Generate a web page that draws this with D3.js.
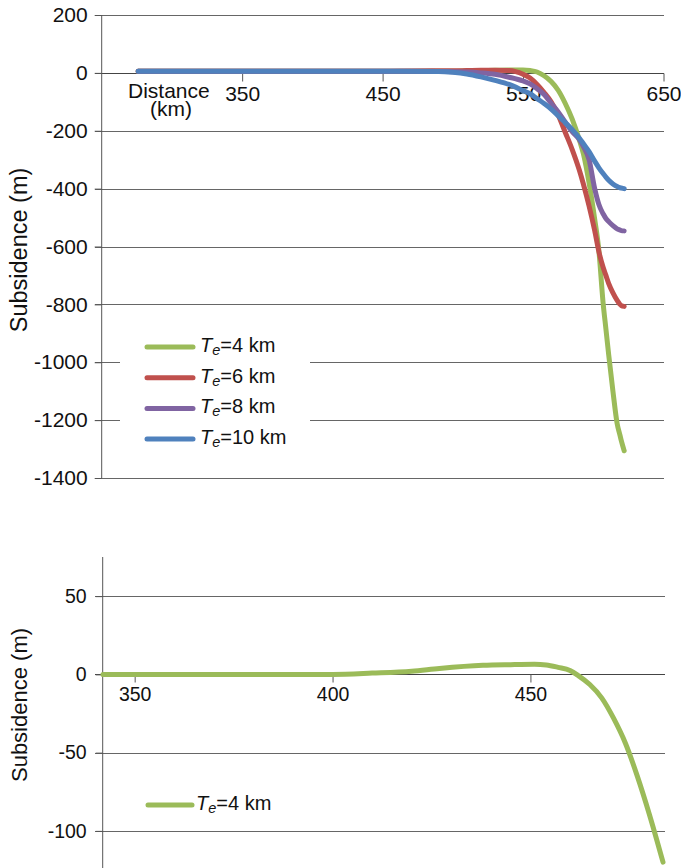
<!DOCTYPE html>
<html><head><meta charset="utf-8">
<script src="https://cdn.jsdelivr.net/npm/d3@7"></script>
<style>
body{margin:0;background:#fff;}
svg text{font-family:Arial,"Liberation Sans",Helvetica,sans-serif;fill:#111;}
</style>
</head><body>
<svg id="chart" width="681" height="868"></svg>
<script>
// ---------- DATA (top panel) ----------
const distance = [276, 350, 450, 490, 500, 510, 520, 530, 540, 550, 555, 560, 565, 570, 575, 580, 585, 590, 593, 597, 601, 604, 607, 609, 611, 614, 617, 619, 620, 622];
const te4  = [6, 6, 6, 6, 6, 7, 8, 9, 10, 10, 8, 3, -10, -30, -60, -105, -160, -230, -280, -380, -505, -615, -795, -885, -975, -1100, -1212, -1252, -1272, -1306];
const te6  = [6, 6, 6, 7, 7, 8, 9, 9, 8, -5, -18, -40, -68, -100, -145, -205, -265, -335, -385, -460, -545, -618, -672, -700, -728, -760, -786, -800, -804, -807];
const te8  = [6, 6, 6, 5, 4, 3, 0, -5, -15, -28, -38, -55, -75, -105, -135, -170, -203, -230, -255, -300, -400, -455, -487, -503, -514, -528, -539, -543, -545, -546];
const te10 = [6, 6, 6, 5, 2, -4, -14, -26, -40, -61, -72, -89, -106, -125, -148, -172, -196, -225, -245, -272, -305, -328, -348, -360, -371, -384, -393, -397, -398, -400];
const seriesNames = ["4", "6", "8", "10"];
const seriesValues = [te4, te6, te8, te10];
const seriesColors = ["#9BBB59", "#C0504D", "#8064A2", "#4F81BD"];
const topYTicks = [200, 0, -200, -400, -600, -800, -1000, -1200, -1400];
const topXTicks = [350, 450, 550, 650];

// ---------- DATA (bottom panel, zoom of Te=4 km) ----------
const distance2 = [342, 360, 380, 400, 410, 420, 427, 438, 445, 451, 454, 457, 460, 462, 465, 468, 471, 474, 477, 480, 483.5];
const te4zoom   = [0, 0, 0, 0, 0.8, 2, 3.8, 5.8, 6.2, 6.4, 6, 4.5, 2.5, -0.6, -6.5, -15, -28, -44, -65, -89, -120];
const bottomYTicks = [50, 0, -50, -100];
const bottomXTicks = [350, 400, 450];

const svg = d3.select("#chart");
const FS_TOP = 21, FS_BOT = 19.5;
const fmt = d => String(d);

function legendLabel(sel, val, x, y) {
  const t = sel.append("text").attr("x", x).attr("y", y).attr("font-size", 20).attr("dominant-baseline", "middle");
  t.append("tspan").attr("font-style", "italic").text("T");
  t.append("tspan").attr("font-style", "italic").attr("font-size", 14.5).attr("dy", 4).text("e");
  t.append("tspan").attr("dy", -4).text("=" + val + " km");
}

// ================= TOP PANEL =================
const x1 = d3.scaleLinear().domain([250, 650]).range([101.7, 663.5]);
const y1 = d3.scaleLinear().domain([-1400, 200]).range([478, 15]);
const g1 = svg.append("g");

g1.append("g").selectAll("line").data(topYTicks).join("line")
  .attr("x1", 95).attr("x2", 664)
  .attr("y1", d => Math.round(y1(d)) + 0.5).attr("y2", d => Math.round(y1(d)) + 0.5)
  .attr("stroke", d => d === 0 ? "#444" : "#666").attr("stroke-width", 1);

const ya1 = g1.append("g").attr("transform", "translate(101.7,0)")
  .call(d3.axisLeft(y1).tickValues(topYTicks).tickSize(7).tickPadding(7).tickFormat(fmt));
ya1.select(".domain").remove();
ya1.selectAll(".tick line").attr("stroke", "#555");
ya1.selectAll("text").attr("font-size", FS_TOP).attr("font-family", null);
g1.append("line").attr("x1", 101.7).attr("x2", 101.7).attr("y1", y1(200)).attr("y2", y1(-1400)).attr("stroke", "#555");

const xa1 = g1.append("g").attr("transform", `translate(0,${Math.round(y1(0)) + 0.5})`)
  .call(d3.axisBottom(x1).tickValues(topXTicks).tickSize(8).tickPadding(5).tickFormat(fmt));
xa1.select(".domain").remove();
xa1.selectAll(".tick line").attr("stroke", "#555");
xa1.selectAll("text").attr("font-size", FS_TOP).attr("font-family", null);

g1.append("text").attr("x", 128).attr("y", 97.5).attr("font-size", FS_TOP).text("Distance");
g1.append("text").attr("x", 171).attr("y", 116).attr("font-size", FS_TOP).attr("text-anchor", "middle").text("(km)");

g1.append("text").attr("transform", "translate(27,250) rotate(-90)")
  .attr("text-anchor", "middle").attr("font-size", 23.5).text("Subsidence (m)");

const line1 = d3.line().x((d, i) => x1(distance[i])).y(d => y1(d)).curve(d3.curveMonotoneX);
g1.append("g").selectAll("path").data(seriesValues).join("path")
  .attr("d", d => line1(d)).attr("fill", "none")
  .attr("stroke", (d, i) => seriesColors[i]).attr("stroke-width", 5)
  .attr("stroke-linecap", "round").attr("stroke-linejoin", "round");

const lg1 = g1.append("g");
lg1.append("rect").attr("x", 120).attr("y", 331).attr("width", 190).attr("height", 124).attr("fill", "#fff");
seriesNames.forEach((n, i) => {
  const yy = 347 + i * 30.7;
  lg1.append("line").attr("x1", 147).attr("x2", 193).attr("y1", yy).attr("y2", yy)
    .attr("stroke", seriesColors[i]).attr("stroke-width", 5).attr("stroke-linecap", "round");
  legendLabel(lg1, n, 200, yy);
});

// ================= BOTTOM PANEL =================
const x2 = d3.scaleLinear().domain([342, 484]).range([103, 665]);
const y2 = d3.scaleLinear().domain([-125, 75]).range([870, 557]);
const g2 = svg.append("g");

g2.append("g").selectAll("line").data(bottomYTicks).join("line")
  .attr("x1", 95).attr("x2", 665)
  .attr("y1", d => Math.round(y2(d)) + 0.5).attr("y2", d => Math.round(y2(d)) + 0.5)
  .attr("stroke", d => d === 0 ? "#444" : "#666").attr("stroke-width", 1);

const ya2 = g2.append("g").attr("transform", "translate(102.7,0)")
  .call(d3.axisLeft(y2).tickValues(bottomYTicks).tickSize(7).tickPadding(9).tickFormat(fmt));
ya2.select(".domain").remove();
ya2.selectAll(".tick line").attr("stroke", "#555");
ya2.selectAll("text").attr("font-size", FS_BOT).attr("font-family", null);
g2.append("line").attr("x1", 102.7).attr("x2", 102.7).attr("y1", 557).attr("y2", 868).attr("stroke", "#555");

const xa2 = g2.append("g").attr("transform", `translate(0,${Math.round(y2(0)) + 0.5})`)
  .call(d3.axisBottom(x2).tickValues(bottomXTicks).tickSize(8).tickPadding(5).tickFormat(fmt));
xa2.select(".domain").remove();
xa2.selectAll(".tick line").attr("stroke", "#555");
xa2.selectAll("text").attr("font-size", FS_BOT).attr("font-family", null);

g2.append("text").attr("transform", "translate(27,705) rotate(-90)")
  .attr("text-anchor", "middle").attr("font-size", 22).text("Subsidence (m)");

const line2 = d3.line().x((d, i) => x2(distance2[i])).y(d => y2(d)).curve(d3.curveMonotoneX);
g2.append("path").attr("d", line2(te4zoom)).attr("fill", "none")
  .attr("stroke", seriesColors[0]).attr("stroke-width", 5)
  .attr("stroke-linecap", "round").attr("stroke-linejoin", "round");

const lg2 = g2.append("g");
lg2.append("line").attr("x1", 148).attr("x2", 192).attr("y1", 805).attr("y2", 805)
  .attr("stroke", seriesColors[0]).attr("stroke-width", 5).attr("stroke-linecap", "round");
legendLabel(lg2, seriesNames[0], 196, 805);
</script>
</body></html>
